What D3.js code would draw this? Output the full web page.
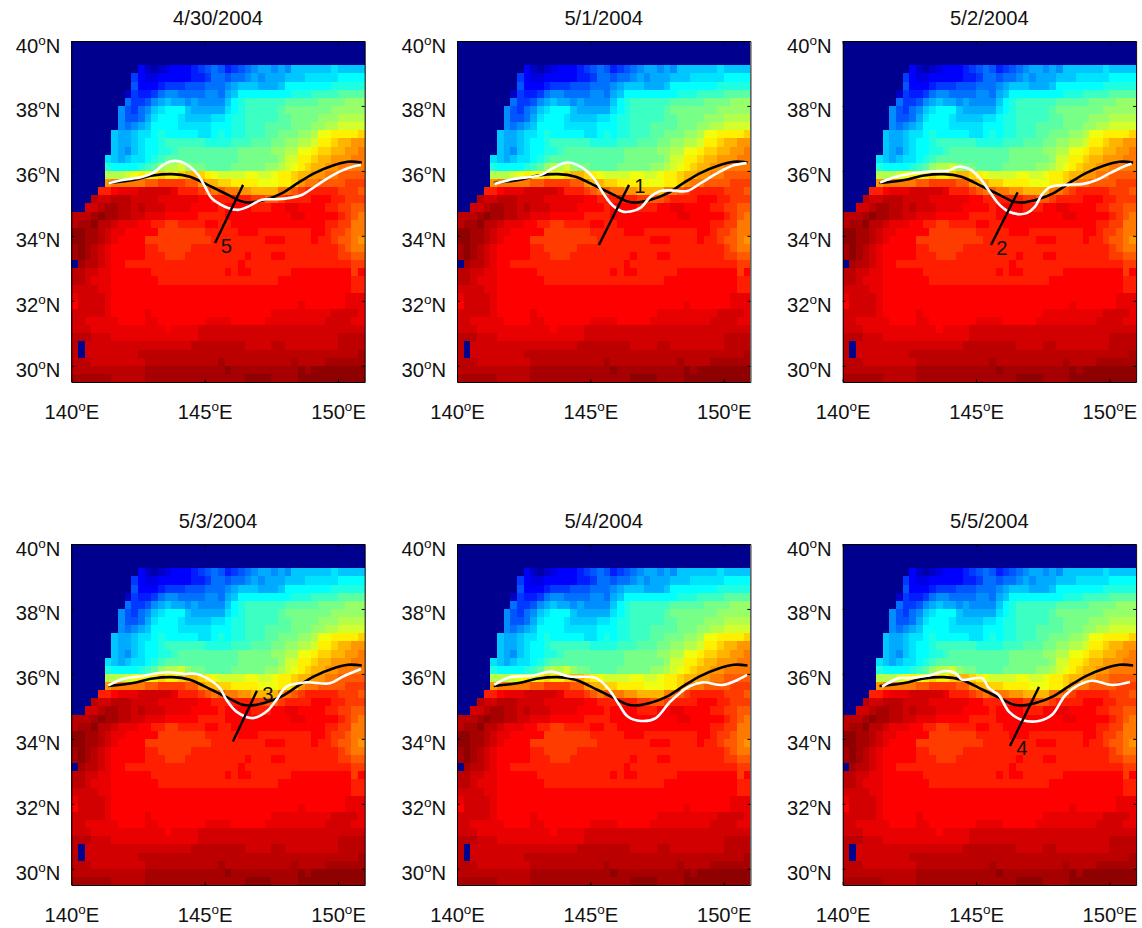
<!DOCTYPE html>
<html>
<head>
<meta charset="utf-8">
<style>
    html, body { margin: 0; background: #fff; }
    text { font-family: "Liberation Sans", Arial, sans-serif; fill: #111; }
</style>
<script src="https://cdn.jsdelivr.net/npm/d3@7"></script>
</head>
<body>
<svg id="chart" width="1142" height="928"></svg>
<script>
// one character per 0.25 degree cell, base 36, 0 = land/no data ... z = top of the jet range
var fieldRows = [
    "0000000000000000000000 0000000000000000000000",
    "0000000000000000000000 0000000000000000000000",
    "0000000000000000000000 0000000000000000000000",
    "0000000000421234445678 756789aa9a9bbbbbbcbbbb",
    "0000000006433444445568 87889a9aaabbbcccccdddd",
    "0000000007444566677788 89abbbaaabdddddddeeeee",
    "0000000026556899888899 8abddddddddeeeffffgggg",
    "0000000086679abaa9a999 9bdeffffffggggghhhhiii",
    "000000097689bcdddbaaaa acdefffffghhhhhhhiiiii",
    "00000009778acdddcbbbbc cdeefffffgghhhhiiijjjj",
    "0000000989abddddcccccd ddeefffgggghhhiijjkkkk",
    "000000baabccdedddddccd edeefffgghhhiijllmmmmn",
    "000000baabcddeffffffee eefffggghhiijjkmmnoopp",
    "000000ba9bcddeefgggggg ggghhhhhiijjllmnnooppq",
    "00000cbabccdefgggggggg ggghhhhhhikkmmnoopppqq",
    "00000eddddefgijjkihhgg gghhhhhiijklmnooppqqqq",
    "00000jjjklmlmnmmnoonml kkkkllkklmmnooppqqrrrr",
    "00000pqqqqqrrssssrrpoo nnmmmmlllmmnpqqrrrrsss",
    "0000ttuvvvwwwwwvtttsrq rqqppooooqqrstttttsssr",
    "000xwwxxxwwwwvvvvvvuut tttttssrrsttttuuuttsss",
    "00wwxyyxxwxwwwvvvvuuuu tuuuutttuuvvuuuuttssrr",
    "xxxyzyyxxwwvvvuuuuuttt tuuuuuuuuuuvvuuuuutsrq",
    "xyyzxxwvvvuuttssttttuu ttuuuuuuuuuuuuuuttssqq",
    "zzyyxwvvuuuuussssssstt tttuuuttttttttuutssrqq",
    "zzyyxwvuuuusssssssssst tttttttuuuttttuttsrrqp",
    "yzyxwvuuuuuttssssstttt ttttttttttttttttttsrqq",
    "yzyxwvuuuuutttsssttttt ttttutttuuttttttttssrr",
    "0yxxwvuutttttttttttttt tttuttttttttttttttttss",
    "xxwwvvuuuuuutttttttttt tutuuttttttuuuuuuuuusu",
    "xxwvvvuuuuuuuttttttttt tttttttttuuuuuuuuuuutt",
    "wwwwvvuuuuuuuuuuuuuuuu uuuuuuuuuuuuuuuuuuuutt",
    "vwwwwvuuuuuuuuuuuuuuuu uuuuuuuuuuuuuuuuuuuvvv",
    "uwwwwvuuuuuuuuuuuuuuuu uuuuuuuuuuuuvuuuuuuvvv",
    "wwwwwvuuuuuvuuuuuuuuuu uuuuuuuuvvvvvvvvvwwwwv",
    "wwvvvvvuuuuvvuuuuuuuvv vvuuuuuvvvvvvvvvwwwwvv",
    "wwwvvvvvvvvvvvuvvvvwww wwwwwwwwwwwwwwwwwwwwww",
    "xxxwwwvvvvvvvvvvvvvwww wwwwwwwwwwwwwwwwwwxxxx",
    "x0wwwwwwwwwwwwwwwwxxxx xxxxwwwwxxwwwwwwwwxxxx",
    "x0wwwwwwwwxxxxxxxxxxxx xxxxxxxxxxxxxxxxxxxxxy",
    "xxxwwwwwwwwxxxxxxxxxxx yxxxxxxxxxxyxxxxyyyyyy",
    "xxxxxxxxxxxyyyyyyyyyyy yzyyyyyyyyyyzyzzzzzzzz",
    "yyyyyyxxxxxyyyyyyyyyyy yyyyzzzzyyyyzzzzzzzzzz"
];

var panelDates = ["4/30/2004", "5/1/2004", "5/2/2004", "5/3/2004", "5/4/2004", "5/5/2004"];
var lonTicks = [140, 145, 150];
var latTicks = [30, 32, 34, 36, 38, 40];

// black reference front, the same on every panel
var blackFront = [[141.38, 35.63], [142.31, 35.72], [143.06, 35.86], [143.78, 35.90], [144.45, 35.82], [144.94, 35.64],
    [145.46, 35.43], [145.88, 35.26], [146.39, 35.06], [146.76, 35.03], [147.26, 35.11], [147.89, 35.31],
    [148.50, 35.63], [149.14, 35.94], [149.76, 36.15], [150.37, 36.28], [150.89, 36.26]];

// daily white front
var whiteApr30 = [[141.39, 35.62], [141.94, 35.72], [142.64, 35.81], [143.06, 35.94], [143.44, 36.18], [143.70, 36.29],
    [144.08, 36.29], [144.45, 36.13], [144.75, 35.88], [145.01, 35.52], [145.26, 35.16], [145.57, 34.98],
    [145.88, 34.86], [146.25, 34.80], [146.63, 34.90], [147.14, 35.11], [147.75, 35.13], [148.20, 35.17],
    [148.64, 35.26], [149.14, 35.52], [149.62, 35.78], [150.14, 36.01], [150.64, 36.15], [150.86, 36.18]];
var whiteMay1 = [[141.40, 35.60], [142.13, 35.75], [143.13, 35.87], [143.63, 36.10], [144.13, 36.26], [144.69, 36.10],
    [145.13, 35.77], [145.48, 35.31], [145.82, 34.95], [146.20, 34.75], [146.51, 34.75], [146.89, 34.87],
    [147.26, 35.21], [147.63, 35.38], [148.01, 35.40], [148.63, 35.38], [149.13, 35.62], [149.76, 35.93],
    [150.32, 36.16], [150.86, 36.24]];
var whiteMay2 = [[141.40, 35.64], [141.96, 35.81], [142.65, 35.93], [143.40, 35.99], [143.96, 36.01], [144.33, 36.13],
    [144.77, 36.05], [145.15, 35.77], [145.46, 35.42], [145.83, 35.00], [146.21, 34.75], [146.58, 34.67],
    [146.90, 34.70], [147.21, 34.90], [147.46, 35.26], [147.77, 35.50], [148.33, 35.57], [149.02, 35.60],
    [149.52, 35.72], [150.02, 35.93], [150.52, 36.13], [150.83, 36.22]];
var whiteMay3 = [[141.38, 35.64], [141.95, 35.85], [142.57, 35.92], [143.20, 36.02], [143.70, 36.05], [144.20, 36.00],
    [144.70, 36.00], [145.19, 35.82], [145.57, 35.56], [145.82, 35.20], [146.19, 34.84], [146.82, 34.64],
    [147.32, 34.84], [147.69, 35.20], [148.07, 35.61], [148.81, 35.74], [149.69, 35.71], [150.19, 35.92],
    [150.86, 36.15]];
var whiteMay4 = [[141.39, 35.66], [141.96, 35.89], [142.84, 35.95], [143.53, 36.07], [144.21, 35.92], [145.21, 35.87],
    [145.71, 35.51], [146.08, 35.05], [146.40, 34.69], [146.90, 34.55], [147.45, 34.64], [148.00, 35.15],
    [148.70, 35.61], [149.20, 35.74], [149.95, 35.66], [150.45, 35.79], [150.87, 35.97]];
var whiteMay5 = [[141.48, 35.61], [142.10, 35.87], [142.48, 35.87], [143.23, 35.95], [143.85, 36.09], [144.23, 36.02],
    [144.48, 35.82], [145.23, 35.87], [145.48, 35.56], [145.85, 35.35], [146.23, 34.84], [146.72, 34.58],
    [147.35, 34.55], [147.85, 34.74], [148.35, 35.35], [148.85, 35.66], [149.35, 35.79], [150.10, 35.66],
    [150.77, 35.75]];
var whiteFronts = [whiteApr30, whiteMay1, whiteMay2, whiteMay3, whiteMay4, whiteMay5];

// section lines and their day numbers, the 5/4 panel has none
var sectionLines = [
    [[146.44, 35.57], [145.39, 33.78]],
    [[146.45, 35.57], [145.32, 33.72]],
    [[146.56, 35.34], [145.56, 33.72]],
    [[146.96, 35.48], [146.06, 33.92]],
    null,
    [[147.36, 35.60], [146.27, 33.78]]
];
var sectionNumbers = ["5", "1", "2", "3", null, "4"];
var sectionNumberAt = [[145.81, 33.69], [146.86, 35.54], [145.97, 33.63], [147.37, 35.38], null, [146.72, 33.72]];

var cellSize = 0.25, lonStart = 140, latTop = 40;
var panelLeft = [71.3, 457, 842.7], panelTop = [41, 544];
var panelWidth = 293.4, panelHeight = 341;
var labelSize = 20.2;

var svg = d3.select("#chart");

var x = d3.scaleLinear().domain([140, 151]).range([0, panelWidth]);
var y = d3.scaleLinear().domain([29.5, 40]).range([panelHeight, 0]);

// base 36 level to position on the colormap
var level = d3.scaleLinear().domain([0, 4, 13, 30, 35]).range([0, 0.125, 0.375, 0.875, 0.985]);

// matlab jet
var jet = d3.scaleLinear()
    .domain([0, 0.125, 0.375, 0.625, 0.875, 1])
    .range(["rgb(0,0,143)", "rgb(0,0,255)", "rgb(0,255,255)", "rgb(255,255,0)", "rgb(255,0,0)", "rgb(128,0,0)"]);

var cells = [];
fieldRows.forEach(function (row, r) {
    row.replace(" ", "").split("").forEach(function (ch, c) {
        cells.push({
            lon: lonStart + c * cellSize,
            lat: latTop - r * cellSize,
            value: level(parseInt(ch, 36))
        });
    });
});

var line = d3.line()
    .x(function (d) { return x(d[0]); })
    .y(function (d) { return y(d[1]); })
    .curve(d3.curveCatmullRom);

function degreeLabel(sel, suffix) {
    sel.each(function (d) {
        var t = d3.select(this);
        t.text(null);
        t.append("tspan").text(d);
        t.append("tspan").attr("font-size", 13.5).attr("dy", -8).text("o");
        t.append("tspan").attr("dy", 8).text(suffix);
    });
}

panelDates.forEach(function (date, i) {
    var g = svg.append("g")
        .attr("transform", "translate(" + panelLeft[i % 3] + "," + panelTop[Math.floor(i / 3)] + ")");

    g.append("g").selectAll("rect")
        .data(cells)
        .join("rect")
        .attr("x", function (d) { return x(d.lon); })
        .attr("y", function (d) { return y(d.lat); })
        .attr("width", x(lonStart + cellSize) - x(lonStart))
        .attr("height", y(latTop - cellSize) - y(latTop))
        .attr("shape-rendering", "crispEdges")
        .attr("fill", function (d) { return jet(d.value); });

    g.append("path")
        .attr("d", line(blackFront))
        .attr("fill", "none")
        .attr("stroke", "#000")
        .attr("stroke-width", 2.6);
    g.append("path")
        .attr("d", line(whiteFronts[i]))
        .attr("fill", "none")
        .attr("stroke", "#fff")
        .attr("stroke-width", 2.6);

    if (sectionLines[i]) {
        g.append("line")
            .attr("x1", x(sectionLines[i][0][0]))
            .attr("y1", y(sectionLines[i][0][1]))
            .attr("x2", x(sectionLines[i][1][0]))
            .attr("y2", y(sectionLines[i][1][1]))
            .attr("stroke", "#000")
            .attr("stroke-width", 2.4);
        g.append("text")
            .attr("x", x(sectionNumberAt[i][0]))
            .attr("y", y(sectionNumberAt[i][1]))
            .attr("dy", "0.35em")
            .attr("text-anchor", "middle")
            .attr("font-size", labelSize)
            .text(sectionNumbers[i]);
    }

    var left = g.append("g")
        .call(d3.axisLeft(y).tickValues(latTicks).tickSizeInner(-3).tickSizeOuter(0).tickPadding(11));
    left.selectAll("text").attr("dy", 11).attr("font-size", labelSize).call(degreeLabel, "N");

    var bottom = g.append("g")
        .attr("transform", "translate(0," + panelHeight + ")")
        .call(d3.axisBottom(x).tickValues(lonTicks).tickSizeInner(-3).tickSizeOuter(0));
    bottom.selectAll("text").attr("y", 37).attr("dy", 0).attr("font-size", labelSize).call(degreeLabel, "E");

    g.append("g")
        .call(d3.axisTop(x).tickValues(lonTicks).tickSizeInner(-3).tickSizeOuter(0).tickFormat(""));
    g.append("g")
        .attr("transform", "translate(" + panelWidth + ",0)")
        .call(d3.axisRight(y).tickValues(latTicks).tickSizeInner(-3).tickSizeOuter(0).tickFormat(""));

    g.append("text")
        .attr("x", panelWidth / 2)
        .attr("y", -16)
        .attr("text-anchor", "middle")
        .attr("font-size", labelSize)
        .text(date);
});
</script>
</body>
</html>
